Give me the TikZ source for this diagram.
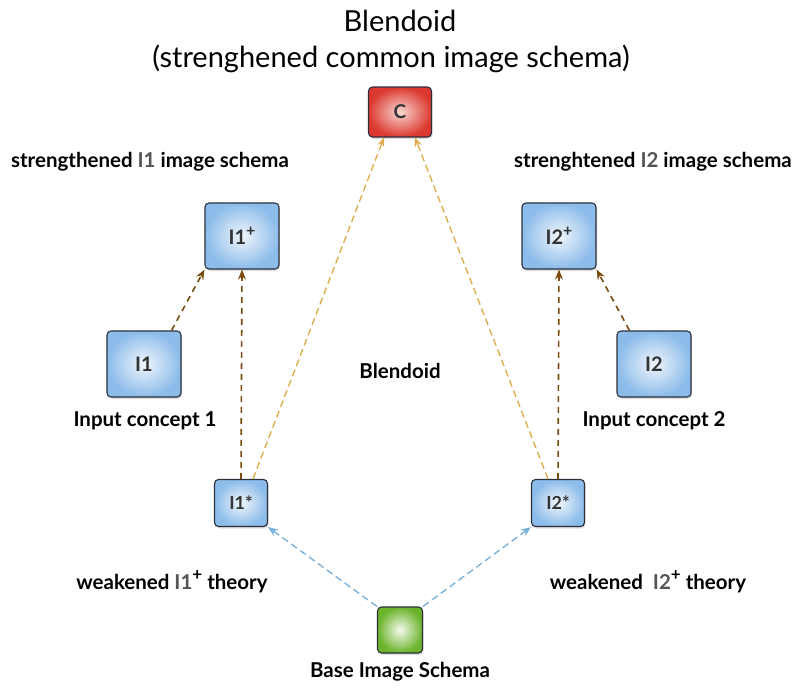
\documentclass[tikz,border=0pt]{standalone}
\usepackage{fontspec}
\setmainfont{Lato}
\usetikzlibrary{arrows.meta,shadows}
\definecolor{boxedge}{HTML}{2B2F3A}
\definecolor{blueout}{HTML}{8CBCEA}
\definecolor{bluein}{HTML}{F0F6FC}
\definecolor{redout}{HTML}{DC3A30}
\definecolor{redin}{HTML}{F8D6D2}
\definecolor{greenout}{HTML}{6CB42C}
\definecolor{greenin}{HTML}{F4FAEE}
\definecolor{brownarr}{HTML}{7A4C10}
\definecolor{goldarr}{HTML}{DCAA46}
\definecolor{skyarr}{HTML}{7DB2DA}
\definecolor{labgray}{HTML}{555555}
% raised plus sign, size in pt as optional argument
\newcommand{\plussup}[1][14]{\raisebox{0.42em}{\fontsize{#1}{#1}\selectfont +}}
\tikzset{
  box/.style={draw=boxedge, line width=1.1pt, rounded corners=4pt,
    inner color=bluein, outer color=blueout,
    drop shadow={shadow xshift=1pt, shadow yshift=-2pt, opacity=0.25},
    font=\bfseries\fontsize{20}{22}\selectfont, text=black!80},
  redbox/.style={box, inner color=redin, outer color=redout},
  greenbox/.style={box, inner color=greenin, outer color=greenout},
  caption/.style={font=\bfseries\fontsize{20.5}{24}\selectfont},
  brownlink/.style={draw=brownarr, line width=1.6pt, dash pattern=on 6pt off 5pt,
    -{Stealth[length=10pt,width=8pt]}},
  goldlink/.style={draw=goldarr, line width=1.3pt, dash pattern=on 7pt off 4pt,
    -{Stealth[open,length=9pt,width=7pt]}},
  skylink/.style={draw=skyarr, line width=1.4pt, dash pattern=on 7pt off 4pt,
    -{Stealth[length=10pt,width=8pt]}},
}
\begin{document}
\begin{tikzpicture}[x=1pt,y=-1pt]
\useasboundingbox (0,0) rectangle (796,688);

% title
\node (title) at (400,21) {\fontsize{29}{33}\selectfont Blendoid};
\node (subtitle) at (391,59) {\fontsize{29}{33}\selectfont (strenghened common image schema)};

% concept boxes
\node[redbox, minimum width=63pt, minimum height=50pt, font=\bfseries\fontsize{19}{21}\selectfont] (c) at (400,112) {C};
\node[box, minimum width=74pt, minimum height=66pt] (i1p) at (242,236) {I1\plussup[16]};
\node[box, minimum width=74pt, minimum height=66pt] (i2p) at (559,236) {I2\plussup[16]};
\node[box, minimum width=74pt, minimum height=66pt] (i1) at (144,364) {I1};
\node[box, minimum width=74pt, minimum height=66pt] (i2) at (654,364) {I2};
\node[box, minimum width=53pt, minimum height=47pt, font=\bfseries\fontsize{18}{20}\selectfont] (i1s) at (241,503) {I1*};
\node[box, minimum width=53pt, minimum height=47pt, font=\bfseries\fontsize{18}{20}\selectfont] (i2s) at (558,503) {I2*};
\node[greenbox, minimum width=45pt, minimum height=46pt] (base) at (400,630) {};

% captions
\node[caption] (capi1p) at (150,162) {strengthened {\color{labgray}I1} image schema};
\node[caption] (capi2p) at (653,162) {strenghtened {\color{labgray}I2} image schema};
\node[caption] (capblend) at (400,371) {Blendoid};
\node[caption] (capi1) at (145,421) {Input concept 1};
\node[caption] (capi2) at (654,421) {Input concept 2};
\node[caption] (capi1s) at (172,582) {weakened {\color{labgray}I1}\plussup[17]\ theory};
\node[caption] (capi2s) at (648,582) {weakened\ \ {\color{labgray}I2}\plussup[17]\ theory};
\node[caption] (capbase) at (400,672) {Base Image Schema};

% links
\draw[brownlink] (i1.north east) ++(-10pt,0) coordinate (i1a) (i1a) -- (i1p.south west);
\draw[brownlink] (i1s.north) -- (i1p.south);
\draw[brownlink] (i2.north west) ++(13pt,0) coordinate (i2a) (i2a) -- (i2p.south east);
\draw[brownlink] (i2s.north) -- (i2p.south);
\draw[goldlink] ([xshift=12pt]i1s.north) -- ([xshift=-16pt]c.south);
\draw[goldlink] ([xshift=-10pt]i2s.north) -- ([xshift=15pt]c.south);
\draw[skylink] (base.north west) -- (i1s.south east);
\draw[skylink] (base.north east) -- (i2s.south west);
\end{tikzpicture}
\end{document}
